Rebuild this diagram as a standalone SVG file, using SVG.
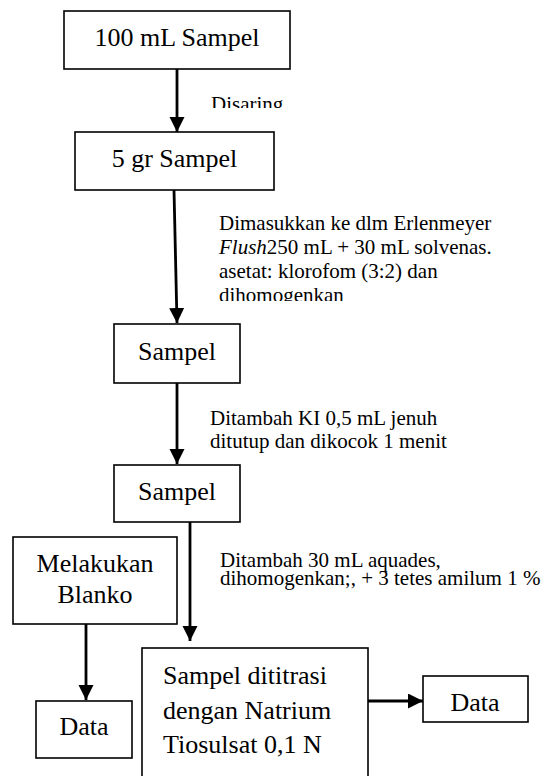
<svg xmlns="http://www.w3.org/2000/svg" width="545" height="776" viewBox="0 0 545 776">
<style>
.box{fill:#fff;stroke:#000;stroke-width:1.6}
.bt{font-family:"Liberation Serif","Times New Roman",serif;font-size:26px;fill:#000}
.lb{font-family:"Liberation Serif","Times New Roman",serif;font-size:21px;fill:#000}
.c{text-anchor:middle}
.ar{stroke:#000;stroke-width:2.8;fill:none;marker-end:url(#ah)}
</style>
<defs>
<marker id="ah" markerUnits="userSpaceOnUse" markerWidth="16" markerHeight="16" viewBox="0 0 16 16" refX="15" refY="7.5" orient="auto">
<path d="M0,0 L15,7.5 L0,15 z" fill="#000"/>
</marker>
<clipPath id="clip1"><rect x="200" y="85" width="120" height="23"/></clipPath>
<clipPath id="clip2"><rect x="200" y="200" width="330" height="101"/></clipPath>
</defs>
<g id="connectors">
<line class="ar" x1="177" y1="69" x2="177" y2="132"/>
<line class="ar" x1="174" y1="190" x2="177" y2="323"/>
<line class="ar" x1="177" y1="383" x2="177" y2="464"/>
<line class="ar" x1="190" y1="520" x2="190" y2="641"/>
<line class="ar" x1="86" y1="624" x2="86" y2="700"/>
<line class="ar" x1="368" y1="701" x2="423" y2="701"/>
</g>
<g id="node1"><rect class="box" x="64" y="11" width="226" height="58"/><text class="bt c" x="177" y="46">100 mL Sampel</text></g>
<g id="label1"><text class="lb" x="211" y="111" clip-path="url(#clip1)">Disaring</text></g>
<g id="node2"><rect class="box" x="75" y="132" width="199" height="58"/><text class="bt c" x="174.5" y="167">5 gr Sampel</text></g>
<g id="label2" clip-path="url(#clip2)">
<text class="lb" x="219" y="230">Dimasukkan ke dlm Erlenmeyer</text>
<text class="lb" x="219" y="254"><tspan font-style="italic">Flush</tspan>250 mL + 30 mL solvenas.</text>
<text class="lb" x="219" y="278">asetat: klorofom (3:2) dan</text>
<text class="lb" x="219" y="302">dihomogenkan</text>
</g>
<g id="node3"><rect class="box" x="114" y="324" width="126" height="59"/><text class="bt c" x="177" y="360">Sampel</text></g>
<g id="label3">
<text class="lb" x="210" y="425">Ditambah KI 0,5 mL jenuh</text>
<text class="lb" x="210" y="448">ditutup dan dikocok 1 menit</text>
</g>
<g id="node4"><rect class="box" x="114" y="465" width="126" height="57"/><text class="bt c" x="177" y="500">Sampel</text></g>
<g id="node5"><rect class="box" x="13" y="537" width="164" height="87"/><text class="bt c" x="95" y="572">Melakukan</text><text class="bt c" x="95" y="603">Blanko</text></g>
<g id="label4">
<text class="lb" x="220" y="567">Ditambah 30 mL aquades,</text>
<text class="lb" x="220" y="584.5">dihomogenkan;, + 3 tetes amilum 1 %</text>
</g>
<g id="node6"><rect class="box" x="36" y="701" width="96" height="57"/><text class="bt c" x="84" y="735">Data</text></g>
<g id="node7"><rect class="box" x="142" y="648" width="226" height="140"/>
<text class="bt" x="163" y="684">Sampel dititrasi</text>
<text class="bt" x="163" y="719">dengan Natrium</text>
<text class="bt" x="163" y="753">Tiosulsat 0,1 N</text>
</g>
<g id="node8"><rect class="box" x="423" y="676" width="105" height="46"/><text class="bt c" x="475" y="711">Data</text></g>
</svg>
